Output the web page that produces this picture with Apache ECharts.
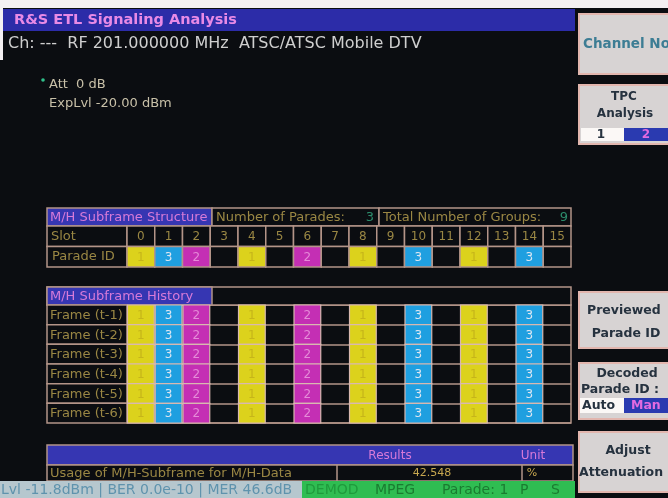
<!DOCTYPE html>
<html>
<head>
<meta charset="utf-8">
<script src="https://cdn.jsdelivr.net/npm/echarts@6/dist/echarts.min.js"></script>
<style>
  html, body { margin: 0; padding: 0; background: #0b0d11; }
  #chart { width: 668px; height: 498px; }
</style>
</head>
<body>
<div id="chart"></div>
<script>
// slot / parade data
var slots = ['0', '1', '2', '3', '4', '5', '6', '7', '8', '9', '10', '11', '12', '13', '14', '15'];
var structRows = ['Slot', 'Parade ID'];
var paradeIds = [1, 3, 2, 0, 1, 0, 2, 0, 1, 0, 3, 0, 1, 0, 3, 0]; // 0 = no group
var frames = ['Frame (t-1)', 'Frame (t-2)', 'Frame (t-3)', 'Frame (t-4)', 'Frame (t-5)', 'Frame (t-6)'];
var frameHistory = [
  [1, 3, 2, 0, 1, 0, 2, 0, 1, 0, 3, 0, 1, 0, 3, 0],
  [1, 3, 2, 0, 1, 0, 2, 0, 1, 0, 3, 0, 1, 0, 3, 0],
  [1, 3, 2, 0, 1, 0, 2, 0, 1, 0, 3, 0, 1, 0, 3, 0],
  [1, 3, 2, 0, 1, 0, 2, 0, 1, 0, 3, 0, 1, 0, 3, 0],
  [1, 3, 2, 0, 1, 0, 2, 0, 1, 0, 3, 0, 1, 0, 3, 0],
  [1, 3, 2, 0, 1, 0, 2, 0, 1, 0, 3, 0, 1, 0, 3, 0]
];
var numParades = '3';
var numGroups = '9';
var usageValue = '42.548';

var BG = '#0b0d11';
var LINE = '#b39488';
var GOLD = '#9a8744';
var HEAD = '#3636b2';
var PINK = '#d77ad8';
var FONT = '"DejaVu Sans", sans-serif';
var idFill = { 1: '#dcd21c', 2: '#c42fb4', 3: '#1f9fe0' };
var idText = { 1: '#c6b51a', 2: '#e58ad8', 3: '#dbe6f2' };

var myChart = echarts.init(document.getElementById('chart'));

// cell data: [slot, row, value]
var structData = [];
for (var i = 0; i < slots.length; i++) {
  structData.push([i, 0, slots[i]]);
  structData.push([i, 1, paradeIds[i]]);
}
var histData = [];
for (var r = 0; r < frameHistory.length; r++) {
  for (var k = 0; k < frameHistory[r].length; k++) {
    if (frameHistory[r][k]) histData.push([k, r, frameHistory[r][k]]);
  }
}

function cellRect(api) {
  var p = api.coord([api.value(0), api.value(1)]);
  var s = api.size([1, 1]);
  return { x: p[0] - s[0] / 2, y: p[1] - s[1] / 2, width: s[0], height: s[1], cx: p[0], cy: p[1] };
}

function renderStruct(params, api) {
  var c = cellRect(api);
  var row = api.value(1);
  var v = api.value(2);
  var fill = (row === 1 && idFill[v]) ? idFill[v] : BG;
  var txt = row === 0 ? String(v) : (v ? String(v) : '');
  var col = row === 0 ? GOLD : idText[v];
  return {
    type: 'group',
    children: [
      { type: 'rect', shape: { x: c.x, y: c.y, width: c.width, height: c.height },
        style: { fill: fill, stroke: LINE, lineWidth: 1.5 } },
      { type: 'text', style: { text: txt, x: c.cx, y: c.cy + 1, align: 'center', verticalAlign: 'middle',
        fill: col, font: '12px ' + FONT } }
    ]
  };
}

function renderHist(params, api) {
  var c = cellRect(api);
  var v = api.value(2);
  return {
    type: 'group',
    children: [
      { type: 'rect', shape: { x: c.x + 0.5, y: c.y, width: c.width - 1, height: c.height },
        style: { fill: idFill[v], stroke: '#d8b8b0', lineWidth: 1.2 } },
      { type: 'text', style: { text: String(v), x: c.cx, y: c.cy + 1, align: 'center', verticalAlign: 'middle',
        fill: idText[v], font: '12px ' + FONT } }
    ]
  };
}

function rect(x, y, w, h, fill, stroke, lw) {
  return { type: 'rect', z: 1, shape: { x: x, y: y, width: w, height: h },
    style: { fill: fill, stroke: stroke || null, lineWidth: lw || 0 } };
}
function label(x, y, str, fill, size, weight, align) {
  return { type: 'text', z: 5, style: { text: str, x: x, y: y, fill: fill,
    font: (weight || 'normal') + ' ' + size + 'px ' + FONT, align: align || 'left', verticalAlign: 'middle' } };
}

var g = [];
// white frame of the photo
g.push(rect(0, 0, 668, 8, '#f4f0f2'));
g.push(rect(0, 0, 3, 60, '#f4f0f2'));
// title bar
g.push(rect(3, 9, 572, 22, '#2c2ca8'));
g.push(label(14, 20, 'R&S ETL Signaling Analysis', '#e88ae6', 14.5, 'bold'));
g.push(label(8, 44, 'Ch: ---  RF 201.000000 MHz  ATSC/ATSC Mobile DTV', '#cfcfcf', 16));
g.push({ type: 'circle', z: 5, shape: { cx: 43, cy: 80, r: 1.8 }, style: { fill: '#2fbf8a' } });
g.push(label(49, 85, 'Att  0 dB', '#c8c0a8', 13));
g.push(label(49, 104, 'ExpLvl -20.00 dBm', '#c8c0a8', 13));

// structure table header row
g.push(rect(47, 208, 165, 18, HEAD, LINE, 1.5));
g.push(label(50, 217.5, 'M/H Subframe Structure', PINK, 13));
g.push(rect(212, 208, 167, 18, BG, LINE, 1.5));
g.push(label(216, 217.5, 'Number of Parades:', GOLD, 13));
g.push(label(374, 217.5, numParades, '#2c8c6c', 13, 'normal', 'right'));
g.push(rect(379, 208, 192, 18, BG, LINE, 1.5));
g.push(label(383, 217.5, 'Total Number of Groups:', GOLD, 13));
g.push(label(568, 217.5, numGroups, '#2c8c6c', 13, 'normal', 'right'));
// structure label column
g.push(rect(47, 226, 80, 20.5, BG, LINE, 1.5));
g.push(label(51, 237, structRows[0], GOLD, 13));
g.push(rect(47, 246.5, 80, 20.5, BG, LINE, 1.5));
g.push(label(52, 257, structRows[1], GOLD, 13));

// history header row
g.push(rect(47, 287, 524, 18, BG, LINE, 1.5));
g.push(rect(47, 287, 165, 18, HEAD, LINE, 1.5));
g.push(label(50, 296.5, 'M/H Subframe History', PINK, 13));
for (var f = 0; f < frames.length; f++) {
  var y0 = 305 + f * 118 / 6;
  g.push(rect(47, y0, 80, 118 / 6, BG, LINE, 1.5));
  g.push(label(50, y0 + 10.5, frames[f], GOLD, 13));
}

// results table
g.push(rect(47, 445, 526, 20, HEAD, LINE, 1.5));
g.push(label(390, 455.5, 'Results', PINK, 12, 'normal', 'center'));
g.push(label(533, 455.5, 'Unit', PINK, 12, 'normal', 'center'));
g.push(rect(47, 465, 526, 16, BG, LINE, 1.5));
g.push({ type: 'line', z: 3, shape: { x1: 337, y1: 465, x2: 337, y2: 481 }, style: { stroke: LINE, lineWidth: 1.5 } });
g.push({ type: 'line', z: 3, shape: { x1: 522, y1: 465, x2: 522, y2: 481 }, style: { stroke: LINE, lineWidth: 1.5 } });
g.push(label(50, 473.5, 'Usage of M/H-Subframe for M/H-Data', GOLD, 13));
g.push(label(432, 473.5, usageValue, '#c8a850', 11, 'normal', 'center'));
g.push(label(532, 473.5, '%', '#c8a850', 11, 'normal', 'center'));

// status bar
g.push(rect(0, 481, 302, 17, '#b6c7ce'));
g.push(label(1, 490, 'Lvl -11.8dBm | BER 0.0e-10 | MER 46.6dB', '#5f93ad', 14));
g.push(rect(302, 481, 273, 17, '#2fbd52'));
g.push(label(305, 490, 'DEMOD', '#1f9a3c', 14));
g.push(label(375, 490, 'MPEG', '#1a7c30', 14));
g.push(label(442, 490, 'Parade: 1', '#1a7c30', 14));
g.push(label(520, 490, 'P', '#1a7c30', 14));
g.push(label(551, 490, 'S', '#1a7c30', 14));

// soft keys on the right
function softKey(y, h) {
  g.push(rect(579, y, 95, h, '#d7d3d3', '#e2b6ae', 2));
}
softKey(14, 60);
g.push(label(583, 44, 'Channel No', '#3d7d94', 13.5, 'bold'));
softKey(85, 59);
g.push(label(624, 97, 'TPC', '#26323f', 12, 'bold', 'center'));
g.push(label(625, 114, 'Analysis', '#26323f', 12, 'bold', 'center'));
g.push(rect(581, 128, 43, 13, '#fbf8f6'));
g.push(rect(624, 128, 44, 13, '#2a3ab0'));
g.push(label(601, 135, '1', '#26323f', 12, 'bold', 'center'));
g.push(label(646, 135, '2', '#e26ae0', 12, 'bold', 'center'));
softKey(292, 56);
g.push(label(587, 311, 'Previewed', '#26323f', 12.5, 'bold'));
g.push(label(626, 334, 'Parade ID', '#26323f', 12.5, 'bold', 'center'));
softKey(363, 56);
g.push(label(627, 374, 'Decoded', '#26323f', 12.5, 'bold', 'center'));
g.push(label(581, 390, 'Parade ID :', '#26323f', 12.5, 'bold'));
g.push(rect(580, 398, 44, 15, '#fbf8f6'));
g.push(rect(624, 398, 44, 15, '#2a3ab0'));
g.push(label(582, 405.5, 'Auto', '#26323f', 12.5, 'bold'));
g.push(label(631, 405.5, 'Man', '#e26ae0', 12.5, 'bold'));
softKey(432, 60);
g.push(label(628, 451, 'Adjust', '#26323f', 12.5, 'bold', 'center'));
g.push(label(579, 473, 'Attenuation', '#26323f', 12.5, 'bold'));

myChart.setOption({
  backgroundColor: BG,
  animation: false,
  grid: [
    { left: 127, top: 226, width: 444, height: 41, show: false },
    { left: 127, top: 305, width: 444, height: 118, show: true, borderColor: LINE, borderWidth: 1.5, backgroundColor: BG }
  ],
  xAxis: [
    { gridIndex: 0, type: 'category', data: slots, show: false },
    { gridIndex: 1, type: 'category', data: slots, show: false }
  ],
  yAxis: [
    { gridIndex: 0, type: 'category', data: structRows, inverse: true, show: false },
    { gridIndex: 1, type: 'category', data: frames, inverse: true,
      axisLine: { show: false }, axisTick: { show: false }, axisLabel: { show: false },
      splitLine: { show: true, lineStyle: { color: LINE, width: 1.5 } } }
  ],
  series: [
    { type: 'custom', xAxisIndex: 0, yAxisIndex: 0, renderItem: renderStruct, data: structData, z: 3 },
    { type: 'custom', xAxisIndex: 1, yAxisIndex: 1, renderItem: renderHist, data: histData, z: 3 }
  ],
  graphic: g
});
</script>
</body>
</html>
